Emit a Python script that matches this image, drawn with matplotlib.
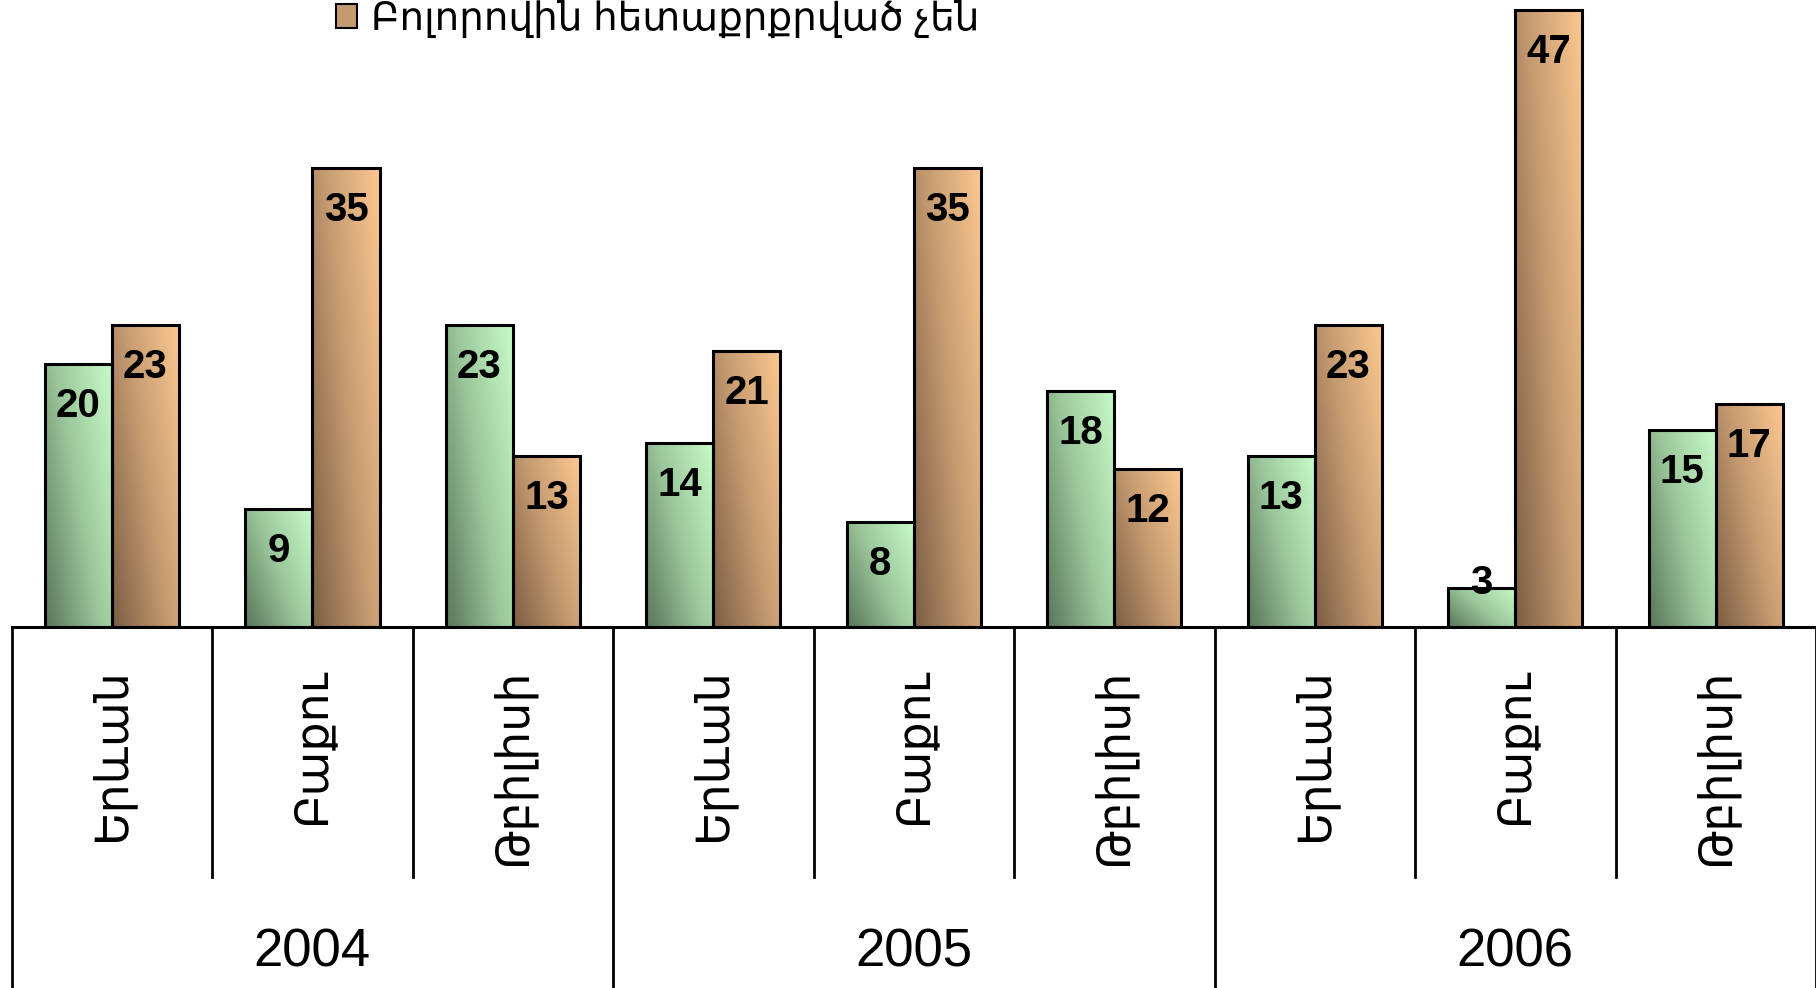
import numpy as np
import matplotlib
matplotlib.use('Agg')
import matplotlib.pyplot as plt
from matplotlib.colors import LinearSegmentedColormap
from matplotlib.patches import Patch
from matplotlib.transforms import blended_transform_factory

# ------------------------------------------------------------------
# data
# ------------------------------------------------------------------
cities = ['Երևան', 'Բաքու', 'Թբիլիսի'] * 3
years = ['2004', '2005', '2006']
series_green = [20, 9, 23, 14, 8, 18, 13, 3, 15]
series_orange = [23, 35, 13, 21, 35, 12, 23, 47, 17]
legend_label = 'Բոլորովին հետաքրքրված չեն'

FONTS = ['Liberation Sans', 'DejaVu Sans']
plt.rcParams['font.family'] = FONTS

green_cmap = LinearSegmentedColormap.from_list('g', ['#5a765a', '#9cc89c', '#c8fac8'])
orange_cmap = LinearSegmentedColormap.from_list('o', ['#7c5e44', '#c49a70', '#fcc890'])

fig = plt.figure(figsize=(18.16, 9.88), dpi=100)
ax = fig.add_axes([0.0064, 1 - 627 / 988, 1 - 0.0064, 627 / 988])

x = np.arange(len(cities))
w = 0.335
bars_g = ax.bar(x - w / 2, series_green, width=w, facecolor='none', edgecolor='black', linewidth=2.2, zorder=3)
bars_o = ax.bar(x + w / 2, series_orange, width=w, facecolor='none', edgecolor='black', linewidth=2.2, zorder=3)

# diagonal gradient fill, clipped to each bar
gx, gy = np.meshgrid(np.linspace(0, 1, 64), np.linspace(0, 1, 64))
grad = (gx * 0.6 + gy * 0.4)
for bars, cmap in ((bars_g, green_cmap), (bars_o, orange_cmap)):
    for b in bars:
        x0, y0 = b.get_x(), b.get_y()
        im = ax.imshow(grad, cmap=cmap, extent=[x0, x0 + b.get_width(), y0, y0 + b.get_height()],
                       origin='lower', aspect='auto', zorder=2, interpolation='bilinear')
        im.set_clip_path(b)

# value labels
for bars, vals in ((bars_g, series_green), (bars_o, series_orange)):
    for b, v in zip(bars, vals):
        ty = v - 3.2 if v > 7 else v + 0.35
        ax.text(b.get_x() + b.get_width() / 2, ty, str(v), ha='center', va='center',
                fontsize=29, fontweight='bold', zorder=4)

ax.set_xlim(-0.5, len(cities) - 0.5)
ax.set_ylim(0, 47.76)
for s in ['top', 'right', 'left']:
    ax.spines[s].set_visible(False)
ax.spines['bottom'].set_linewidth(2.2)
ax.set_xticks([])
ax.set_yticks([])

# category table below the axis
tr = blended_transform_factory(ax.transData, fig.transFigure)
y_axis = 1 - 627 / 988
for i in range(len(cities) + 1):
    xb = i - 0.5
    ybot = 0.0 if i % 3 == 0 else 1 - 877 / 988
    ax.plot([xb, xb], [y_axis, ybot], color='black', lw=2, transform=tr, clip_on=False)
for i, c in enumerate(cities):
    ax.text(i, 1 - 668 / 988, c, rotation=90, ha='center', va='top', fontsize=33,
            transform=tr, family=FONTS)
for j, yr in enumerate(years):
    ax.text(3 * j + 1, 1 - 952 / 988, yr, ha='center', va='center', fontsize=38, transform=tr)

fig.legend(handles=[Patch(facecolor='#c49a70', edgecolor='black', linewidth=1.5)],
           labels=[legend_label], loc='center left', bbox_to_anchor=(336 / 1816, 1 - 19 / 988),
           frameon=False, fontsize=28, handlelength=0.55, handleheight=0.55, handletextpad=0.35,
           borderpad=0, borderaxespad=0)

fig.savefig('out.png', dpi=100)
